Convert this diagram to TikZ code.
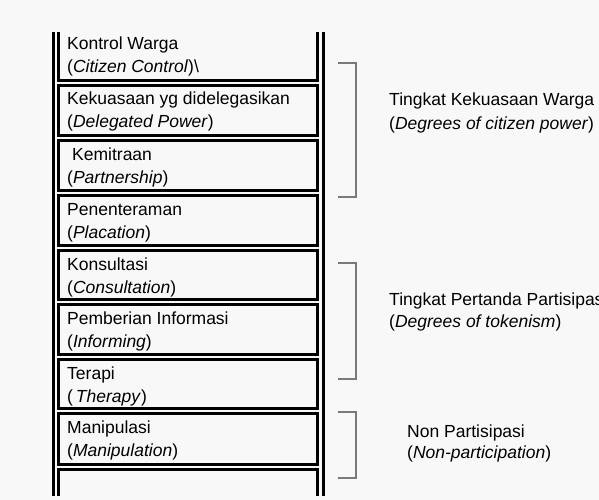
\documentclass[tikz,border=0pt]{standalone}
\usepackage{fontspec}
\setmainfont{Liberation Sans}
\definecolor{bgc}{HTML}{F8F8F8}
\definecolor{brk}{HTML}{7A7A7A}
\begin{document}
\begin{tikzpicture}[x=1pt,y=-1pt,
  rail/.style={line width=3pt,black},
  rung/.style={line width=3.2pt,black,line join=miter},
  lbl/.style={anchor=base west,inner sep=0pt,font=\fontsize{17.5}{20}\selectfont},
  brack/.style={line width=1.4pt,brk,line join=miter}]
\useasboundingbox (0,0) rectangle (599,500);
\clip (0,0) rectangle (599,500);
\fill[bgc] (0,0) rectangle (599,500);
% outer rails
\draw[rail] (53.5,32) -- (53.5,496);
\draw[rail] (323.5,32) -- (323.5,496);
% top box (open at top)
\draw[rung] (58.5,32) -- (58.5,80.3) -- (317.5,80.3) -- (317.5,32);
% middle boxes
\foreach \a/\b in {83/138,138/193,193/248,248/302,302/357,357/411,411/467}{
  \draw[rung] (58.5,\a+2.7) rectangle (317.5,\b-2.7);
}
% bottom box (open at bottom)
\draw[rung] (58.5,496) -- (58.5,469.7) -- (317.5,469.7) -- (317.5,496);
% rung texts
\node[lbl] (t1a) at (67,50) {Kontrol Warga};
\node[lbl] (t1b) at (67,73) {(\textit{Citizen Control})\textbackslash};
\node[lbl] (t2a) at (67,105) {Kekuasaan yg didelegasikan};
\node[lbl] (t2b) at (67,128) {(\textit{Delegated Power})};
\node[lbl] (t3a) at (72,160) {Kemitraan};
\node[lbl] (t3b) at (67,183) {(\textit{Partnership})};
\node[lbl] (t4a) at (67,215) {Penenteraman};
\node[lbl] (t4b) at (67,238) {(\textit{Placation})};
\node[lbl] (t5a) at (67,270) {Konsultasi};
\node[lbl] (t5b) at (67,293) {(\textit{Consultation})};
\node[lbl] (t6a) at (67,324) {Pemberian Informasi};
\node[lbl] (t6b) at (67,347) {(\textit{Informing})};
\node[lbl] (t7a) at (67,379) {Terapi};
\node[lbl] (t7b) at (67,402) {(\,\textit{Therapy})};
\node[lbl] (t8a) at (67,433) {Manipulasi};
\node[lbl] (t8b) at (67,456) {(\textit{Manipulation})};
% brackets
\coordinate (b1t) at (338,63);  \coordinate (b1b) at (338,197);
\coordinate (b2t) at (338,263); \coordinate (b2b) at (338,379);
\coordinate (b3t) at (338,412); \coordinate (b3b) at (338,478);
\draw[brack] (b1t) -- ++(18,0) |- (b1b);
\draw[brack] (b2t) -- ++(18,0) |- (b2b);
\draw[brack] (b3t) -- ++(18,0) |- (b3b);
% group texts
\node[lbl] (g1a) at (389,106) {Tingkat Kekuasaan Warga};
\node[lbl] (g1b) at (389,129) {(\textit{Degrees of citizen power})};
\node[lbl] (g2a) at (389,305) {Tingkat Pertanda Partisipasi};
\node[lbl] (g2b) at (389,327) {(\textit{Degrees of tokenism})};
\node[lbl] (g3a) at (407,437) {Non Partisipasi};
\node[lbl] (g3b) at (407,458) {(\textit{Non-participation})};
\end{tikzpicture}
\end{document}
